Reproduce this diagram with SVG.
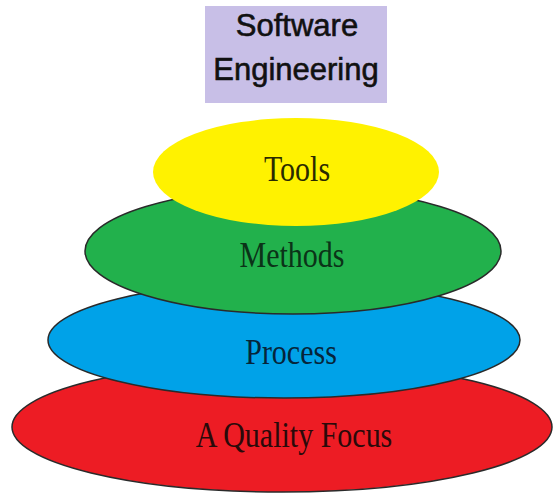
<svg xmlns="http://www.w3.org/2000/svg" width="553" height="495" viewBox="0 0 553 495">
<style>
.layer{stroke:#2a2a2a;stroke-width:1.5}
.lbl{font-family:"Liberation Serif","Times New Roman",serif;font-size:30px;text-anchor:middle}
.title{font-family:"Liberation Sans",Arial,sans-serif;font-size:31px;text-anchor:middle;fill:#111;stroke:#111;stroke-width:0.6}
</style>
<rect width="553" height="495" fill="#ffffff"/>
<g id="title">
<rect x="205" y="6" width="182" height="97" fill="#c8bfe7"/>
<text class="title" x="297" y="36">Software</text>
<text class="title" x="296" y="80">Engineering</text>
</g>
<g id="quality">
<ellipse class="layer" cx="282" cy="427" rx="270" ry="65" fill="#ed1c24"/>
<text class="lbl" transform="translate(294,447) scale(1,1.18)" fill="#2a0a0a">A Quality Focus</text>
</g>
<g id="process">
<ellipse class="layer" cx="284" cy="340" rx="236" ry="58" fill="#00a2e8"/>
<text class="lbl" transform="translate(291,364) scale(1,1.18)" fill="#06253a">Process</text>
</g>
<g id="methods">
<ellipse class="layer" cx="293" cy="251" rx="208" ry="63" fill="#22b14c"/>
<text class="lbl" transform="translate(292,267) scale(1,1.18)" fill="#0b3318">Methods</text>
</g>
<g id="tools">
<ellipse cx="296" cy="172" rx="143" ry="54" fill="#fff200"/>
<text class="lbl" transform="translate(297,181) scale(1,1.18)" fill="#2a2a00">Tools</text>
</g>
<g id="connectors"/>
</svg>
